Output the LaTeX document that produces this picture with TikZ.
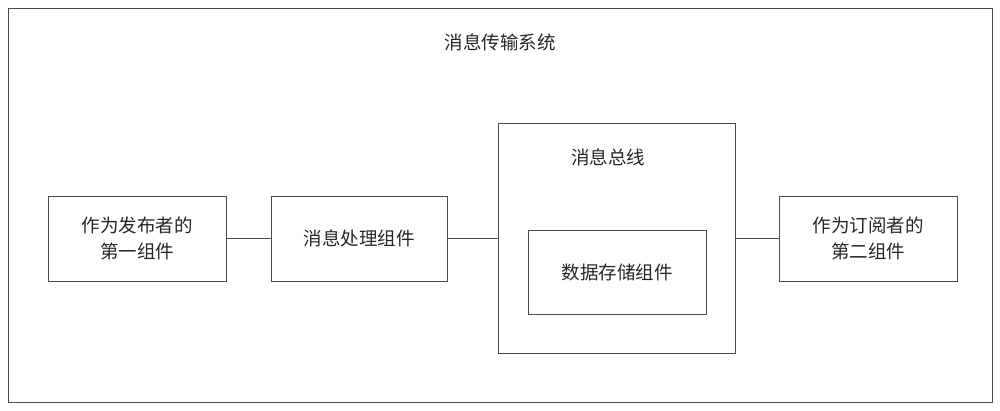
\documentclass[tikz,border=0pt]{standalone}
\usepackage{fontspec}
\setmainfont{Noto Sans CJK SC}
\begin{document}
\begin{tikzpicture}[x=1pt,y=-1pt,
  box/.style={draw=black!70,line width=0.8pt,inner sep=0pt},
  lbl/.style={font=\fontsize{18.5}{26}\selectfont,align=center,text=black!85},
  conn/.style={draw=black!70,line width=0.8pt}]
\useasboundingbox (0,0) rectangle (1000,410);
\draw[box] (8,8) rectangle (992,402);
\node[lbl] (title) at (500,42) {消息传输系统};
\node[box,minimum width=178pt,minimum height=85pt,lbl] (pub) at (137,238.5) {作为发布者的\\第一组件};
\node[box,minimum width=176pt,minimum height=85pt,lbl] (proc) at (359,238.5) {消息处理组件};
\node[box,minimum width=237pt,minimum height=230pt] (bus) at (616.5,238) {};
\node[lbl] (buslbl) at (608,157) {消息总线};
\node[box,minimum width=178pt,minimum height=84pt,lbl] (store) at (617,272) {数据存储组件};
\node[box,minimum width=178pt,minimum height=85pt,lbl] (sub) at (868,238.5) {作为订阅者的\\第二组件};
\draw[conn] (pub.east) -- (proc.west);
\draw[conn] (proc.east) -- (proc.east -| bus.west);
\draw[conn] (sub.west -| bus.east) -- (sub.west);
\end{tikzpicture}
\end{document}
